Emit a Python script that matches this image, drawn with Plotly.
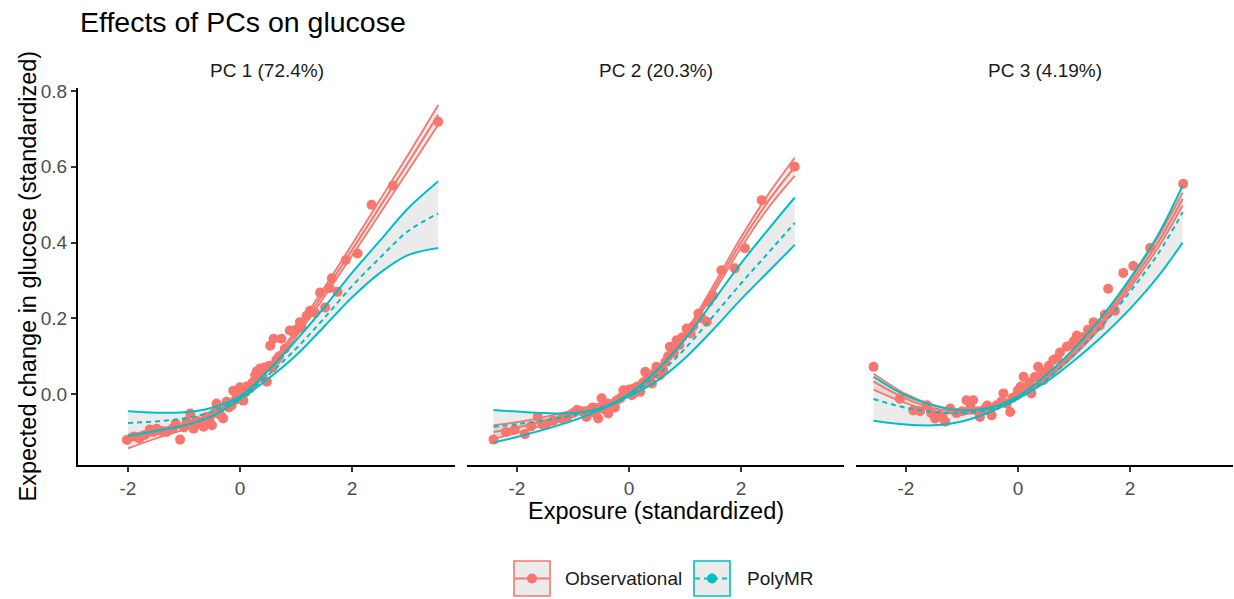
import plotly.graph_objects as go

# ---------------- data ----------------
panel_titles = ["PC 1 (72.4%)", "PC 2 (20.3%)", "PC 3 (4.19%)"]
x_ticks = [-2, 0, 2]
x_tick_labels = ["-2", "0", "2"]
y_ticks = [0.0, 0.2, 0.4, 0.6, 0.8]
y_tick_labels = ["0.0", "0.2", "0.4", "0.6", "0.8"]
legend_labels = ["Observational", "PolyMR"]

# PC 1
pc1_x = [-2.0, -1.5, -1.0, -0.5, 0.0, 0.5, 1.0, 1.5, 2.0, 2.5, 3.0, 3.54]
pc1_obs_fit = [-0.125, -0.105, -0.085, -0.055, -0.003, 0.068, 0.16, 0.268, 0.38, 0.495, 0.61, 0.737]
pc1_obs_hi = [-0.107, -0.093, -0.077, -0.05, 0.001, 0.074, 0.169, 0.28, 0.395, 0.513, 0.631, 0.763]
pc1_obs_lo = [-0.143, -0.117, -0.093, -0.06, -0.007, 0.062, 0.151, 0.256, 0.365, 0.477, 0.589, 0.711]
pc1_mr_fit = [-0.076, -0.072, -0.064, -0.046, -0.009, 0.05, 0.12, 0.2, 0.285, 0.36, 0.43, 0.477]
pc1_mr_hi = [-0.045, -0.049, -0.048, -0.036, -0.006, 0.062, 0.142, 0.228, 0.32, 0.405, 0.49, 0.562]
pc1_mr_lo = [-0.11, -0.097, -0.083, -0.058, -0.013, 0.04, 0.102, 0.178, 0.255, 0.32, 0.367, 0.386]
pc1_pts_x = [-2.02, -1.9, -1.8, -1.7, -1.61, -1.55, -1.49, -1.4, -1.31, -1.2, -1.15, -1.07, -1.0,
             -0.95, -0.89, -0.83, -0.78, -0.72, -0.65, -0.6, -0.55, -0.5, -0.45, -0.42, -0.38,
             -0.35, -0.3, -0.24, -0.2, -0.15, -0.12, -0.08, -0.05, 0.0, 0.03, 0.06, 0.1, 0.12,
             0.18, 0.22, 0.27, 0.3, 0.33, 0.36, 0.4, 0.44, 0.48, 0.52, 0.54, 0.58, 0.6, 0.65,
             0.7, 0.74, 0.8, 0.89, 0.95, 1.0, 1.07, 1.1, 1.19, 1.25, 1.34, 1.43, 1.52, 1.6,
             1.64, 1.74, 1.89, 2.1, 2.35, 2.73, 3.54]
pc1_pts_y = [-0.121, -0.112, -0.117, -0.108, -0.093, -0.1, -0.091, -0.097, -0.1, -0.09, -0.078, -0.12, -0.088,
             -0.072, -0.051, -0.091, -0.07, -0.078, -0.086, -0.06, -0.066, -0.082, -0.05, -0.025, -0.045,
             -0.055, -0.064, -0.02, -0.035, -0.03, 0.009, -0.015, -0.005, 0.018, -0.002, -0.017, 0.005, 0.02,
             0.015, 0.03, 0.05, 0.06, 0.042, 0.068, 0.05, 0.07, 0.033, 0.075, 0.128, 0.07, 0.146, 0.09,
             0.1, 0.146, 0.12, 0.168, 0.165, 0.17, 0.19, 0.175, 0.207, 0.22, 0.215, 0.268, 0.229, 0.28,
             0.306, 0.27, 0.354, 0.371, 0.5, 0.55, 0.719]

# PC 2
pc2_x = [-2.42, -2.0, -1.5, -1.0, -0.5, 0.0, 0.5, 1.0, 1.5, 2.0, 2.5, 2.96]
pc2_obs_fit = [-0.1, -0.088, -0.07, -0.05, -0.028, 0.0, 0.063, 0.155, 0.275, 0.4, 0.512, 0.6]
pc2_obs_hi = [-0.082, -0.074, -0.06, -0.043, -0.023, 0.004, 0.068, 0.162, 0.285, 0.414, 0.53, 0.624]
pc2_obs_lo = [-0.118, -0.102, -0.08, -0.057, -0.033, -0.004, 0.058, 0.148, 0.265, 0.386, 0.494, 0.576]
pc2_mr_fit = [-0.086, -0.079, -0.069, -0.056, -0.035, -0.003, 0.05, 0.12, 0.205, 0.292, 0.375, 0.452]
pc2_mr_hi = [-0.042, -0.046, -0.05, -0.05, -0.037, 0.0, 0.063, 0.145, 0.245, 0.345, 0.437, 0.519]
pc2_mr_lo = [-0.128, -0.113, -0.093, -0.07, -0.04, -0.006, 0.035, 0.095, 0.17, 0.25, 0.325, 0.394]
pc2_pts_x = [-2.42, -2.2, -2.04, -1.86, -1.75, -1.63, -1.55, -1.47, -1.35, -1.2, -1.1, -1.0, -0.93,
             -0.85, -0.76, -0.7, -0.65, -0.6, -0.55, -0.49, -0.45, -0.4, -0.37, -0.3, -0.25, -0.22,
             -0.15, -0.1, -0.05, 0.0, 0.05, 0.08, 0.12, 0.15, 0.2, 0.25, 0.29, 0.32, 0.38, 0.41,
             0.45, 0.49, 0.55, 0.61, 0.65, 0.7, 0.73, 0.8, 0.85, 0.9, 0.95, 1.03, 1.1, 1.15, 1.24,
             1.3, 1.39, 1.42, 1.5, 1.65, 1.89, 2.07, 2.37, 2.96]
pc2_pts_y = [-0.12, -0.1, -0.094, -0.106, -0.085, -0.06, -0.08, -0.078, -0.07, -0.065, -0.06, -0.05, -0.042,
             -0.045, -0.06, -0.048, -0.035, -0.05, -0.064, -0.011, -0.04, -0.025, -0.051, -0.03, -0.035, -0.016,
             -0.01, 0.01, 0.005, 0.012, -0.003, 0.015, 0.005, 0.02, 0.006, 0.03, 0.059, 0.04, 0.045, 0.028,
             0.055, 0.072, 0.05, 0.063, 0.085, 0.1, 0.125, 0.11, 0.142, 0.13, 0.15, 0.173, 0.16, 0.18, 0.213,
             0.2, 0.191, 0.243, 0.26, 0.327, 0.332, 0.385, 0.512, 0.6]

# PC 3
pc3_x = [-2.58, -2.0, -1.5, -1.0, -0.5, 0.0, 0.5, 1.0, 1.5, 2.0, 2.5, 2.94]
pc3_obs_fit = [0.033, -0.012, -0.037, -0.047, -0.037, -0.006, 0.043, 0.108, 0.188, 0.29, 0.40, 0.515]
pc3_obs_hi = [0.054, 0.0, -0.029, -0.041, -0.032, -0.001, 0.048, 0.114, 0.196, 0.30, 0.414, 0.532]
pc3_obs_lo = [0.012, -0.024, -0.045, -0.053, -0.042, -0.011, 0.038, 0.102, 0.18, 0.28, 0.386, 0.498]
pc3_mr_fit = [-0.013, -0.036, -0.047, -0.05, -0.04, -0.01, 0.038, 0.103, 0.18, 0.27, 0.37, 0.48]
pc3_mr_hi = [0.046, -0.004, -0.03, -0.043, -0.036, -0.006, 0.05, 0.12, 0.205, 0.305, 0.42, 0.55]
pc3_mr_lo = [-0.07, -0.08, -0.082, -0.072, -0.047, -0.012, 0.032, 0.088, 0.152, 0.225, 0.31, 0.40]
pc3_pts_x = [-2.58, -2.11, -1.87, -1.75, -1.63, -1.55, -1.48, -1.4, -1.35, -1.3, -1.21, -1.1, -1.0,
             -0.92, -0.85, -0.8, -0.72, -0.68, -0.6, -0.55, -0.5, -0.47, -0.38, -0.3, -0.26, -0.2,
             -0.14, -0.1, -0.02, 0.0, 0.05, 0.1, 0.15, 0.2, 0.24, 0.3, 0.36, 0.4, 0.45, 0.5, 0.55,
             0.63, 0.7, 0.75, 0.87, 0.95, 1.0, 1.05, 1.15, 1.25, 1.35, 1.46, 1.55, 1.61, 1.73, 1.88,
             2.06, 2.36, 2.95]
pc3_pts_y = [0.072, -0.012, -0.043, -0.045, -0.029, -0.05, -0.064, -0.055, -0.06, -0.073, -0.038, -0.05, -0.045,
             -0.016, -0.035, -0.016, -0.045, -0.06, -0.04, -0.03, -0.045, -0.056, -0.029, -0.02, 0.002, -0.025,
             -0.047, -0.01, -0.003, 0.01, 0.02, 0.046, 0.01, 0.03, 0.002, 0.045, 0.072, 0.05, 0.037, 0.06, 0.075,
             0.09, 0.095, 0.11, 0.125, 0.13, 0.14, 0.155, 0.15, 0.17, 0.19, 0.181, 0.21, 0.278, 0.22, 0.32,
             0.338, 0.386, 0.555]

panels = [
    (pc1_x, pc1_obs_fit, pc1_obs_lo, pc1_obs_hi, pc1_mr_fit, pc1_mr_lo, pc1_mr_hi, pc1_pts_x, pc1_pts_y),
    (pc2_x, pc2_obs_fit, pc2_obs_lo, pc2_obs_hi, pc2_mr_fit, pc2_mr_lo, pc2_mr_hi, pc2_pts_x, pc2_pts_y),
    (pc3_x, pc3_obs_fit, pc3_obs_lo, pc3_obs_hi, pc3_mr_fit, pc3_mr_lo, pc3_mr_hi, pc3_pts_x, pc3_pts_y),
]

# ---------------- style ----------------
RED = "#F8766D"
TEAL = "#00BFC4"
RIBBON = "rgba(153,153,153,0.2)"
FONT = "Liberation Sans, Arial, Helvetica, sans-serif"
W, H = 1234, 599
L, R, T, B = 78, 1, 88, 134
PW = W - L - R   # 1155
PH = H - T - B   # 377

def pxx(x):
    return (x - L) / PW

def pxy(y):
    return (H - B - y) / PH

domains = [[0, 377 / PW], [389 / PW, 766 / PW], [778 / PW, 1.0]]
X_RANGE = [-2.893, 3.84]
Y_RANGE = [-0.187, 0.808]

fig = go.Figure()

for i, (xs, of, olo, ohi, mf, mlo, mhi, ptx, pty) in enumerate(panels):
    xa = "x" if i == 0 else f"x{i+1}"
    ya = "y" if i == 0 else f"y{i+1}"
    common = dict(xaxis=xa, yaxis=ya, showlegend=False, hoverinfo="skip")
    # ribbons (fill only)
    fig.add_trace(go.Scatter(x=xs, y=mhi, mode="lines", line=dict(width=0, shape="spline"), **common))
    fig.add_trace(go.Scatter(x=xs, y=mlo, mode="lines", line=dict(width=0, shape="spline"),
                             fill="tonexty", fillcolor=RIBBON, **common))
    fig.add_trace(go.Scatter(x=xs, y=ohi, mode="lines", line=dict(width=0, shape="spline"), **common))
    fig.add_trace(go.Scatter(x=xs, y=olo, mode="lines", line=dict(width=0, shape="spline"),
                             fill="tonexty", fillcolor=RIBBON, **common))
    # observational points
    fig.add_trace(go.Scatter(x=ptx, y=pty, mode="markers",
                             marker=dict(color=RED, size=10, line=dict(width=0)), **common))
    # observational lines
    for yy, w in ((ohi, 1.8), (olo, 1.8), (of, 2.0)):
        fig.add_trace(go.Scatter(x=xs, y=yy, mode="lines",
                                 line=dict(color=RED, width=w, shape="spline"), **common))
    # PolyMR lines
    for yy in (mhi, mlo):
        fig.add_trace(go.Scatter(x=xs, y=yy, mode="lines",
                                 line=dict(color=TEAL, width=2.0, shape="spline"), **common))
    fig.add_trace(go.Scatter(x=xs, y=mf, mode="lines",
                             line=dict(color=TEAL, width=2.0, shape="spline", dash="5px,4px"), **common))

axis_common = dict(showgrid=False, zeroline=False, showline=True, linecolor="black", linewidth=2,
                   ticks="outside", ticklen=5, tickwidth=1.5, tickcolor="#333333",
                   tickfont=dict(family=FONT, size=19, color="#4D4D4D"))

layout = dict(
    width=W, height=H,
    margin=dict(l=L, r=R, t=T, b=B, pad=0),
    plot_bgcolor="white", paper_bgcolor="white",
    font=dict(family=FONT, color="black"),
    title=dict(text="Effects of PCs on glucose", x=pxx(80), xref="paper", xanchor="left",
               y=1 - 22 / H, yref="container", yanchor="middle",
               font=dict(family=FONT, size=28.5, color="black")),
    showlegend=False,
)
for i in range(3):
    xk = "xaxis" if i == 0 else f"xaxis{i+1}"
    yk = "yaxis" if i == 0 else f"yaxis{i+1}"
    ya = "y" if i == 0 else f"y{i+1}"
    xa = "x" if i == 0 else f"x{i+1}"
    layout[xk] = dict(domain=domains[i], range=X_RANGE, anchor=ya,
                      tickvals=x_ticks, ticktext=x_tick_labels, **axis_common)
    if i == 0:
        layout[yk] = dict(domain=[0, 1], range=Y_RANGE, anchor=xa,
                          tickvals=y_ticks, ticktext=y_tick_labels, **axis_common)
    else:
        layout[yk] = dict(domain=[0, 1], range=Y_RANGE, anchor=xa, showgrid=False, zeroline=False,
                          showline=False, showticklabels=False, ticks="")
fig.update_layout(**layout)

annotations = []
for i, t in enumerate(panel_titles):
    annotations.append(dict(text=t, x=(domains[i][0] + domains[i][1]) / 2, y=pxy(71),
                            xref="paper", yref="paper", showarrow=False, xanchor="center", yanchor="middle",
                            font=dict(family=FONT, size=19, color="#1A1A1A")))
annotations.append(dict(text="Exposure (standardized)", x=0.5, y=pxy(511), xref="paper", yref="paper",
                        showarrow=False, xanchor="center", yanchor="middle",
                        font=dict(family=FONT, size=23.5, color="black")))
annotations.append(dict(text="Expected change in glucose (standardized)", x=pxx(27), y=0.5,
                        xref="paper", yref="paper", showarrow=False, textangle=-90,
                        xanchor="center", yanchor="middle",
                        font=dict(family=FONT, size=23.5, color="black")))

# manual legend (ggplot-style keys)
shapes = []
key_specs = [(514, RED, "solid", 563), (694, TEAL, "5px,4px", 745)]
for (kx, col, dash, tx), lab in zip(key_specs, legend_labels):
    shapes.append(dict(type="rect", xref="paper", yref="paper",
                       x0=pxx(kx), x1=pxx(kx + 36), y0=pxy(596), y1=pxy(561),
                       line=dict(color=col, width=1.6), fillcolor="#EBEBEB", layer="above"))
    shapes.append(dict(type="line", xref="paper", yref="paper",
                       x0=pxx(kx + 1), x1=pxx(kx + 35), y0=pxy(578.5), y1=pxy(578.5),
                       line=dict(color=col, width=2, dash=dash), layer="above"))
    shapes.append(dict(type="circle", xref="paper", yref="paper",
                       x0=pxx(kx + 13), x1=pxx(kx + 23), y0=pxy(583.5), y1=pxy(573.5),
                       line=dict(width=0), fillcolor=col, layer="above"))
    annotations.append(dict(text=lab, x=pxx(tx), y=pxy(578.5), xref="paper", yref="paper",
                            showarrow=False, xanchor="left", yanchor="middle",
                            font=dict(family=FONT, size=19, color="#1A1A1A")))

fig.update_layout(annotations=annotations, shapes=shapes)
fig.write_html("out.html")
